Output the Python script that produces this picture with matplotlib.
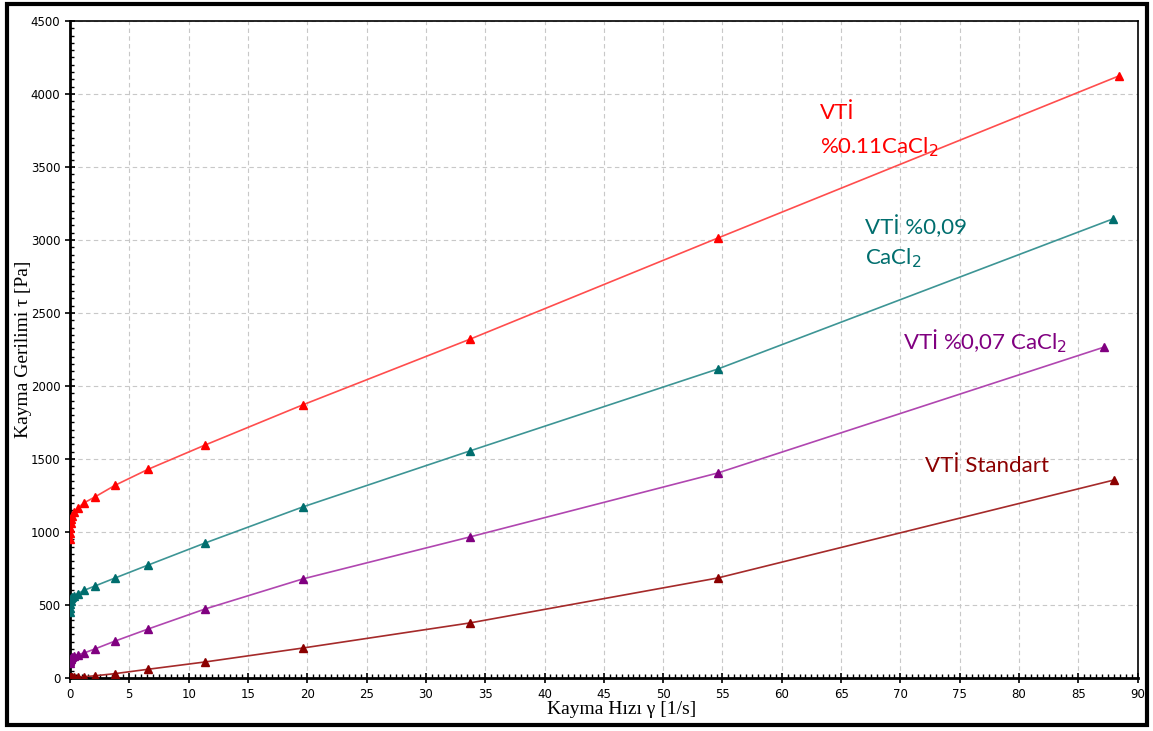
import matplotlib.pyplot as plt
from matplotlib.patches import Rectangle
from matplotlib.ticker import MultipleLocator

# shear rate [1/s] and shear stress [Pa]
rate = [0.01, 0.02, 0.04, 0.07, 0.12, 0.21, 0.37, 0.66, 1.17, 2.1, 3.8, 6.6, 11.4, 19.6, 33.7, 54.6]
rate_last = {"red": 88.4, "teal": 87.9, "purple": 87.2, "std": 88.0}

tau_red = [950, 990, 1030, 1060, 1090, 1110, 1135, 1165, 1199, 1240, 1320, 1430, 1596, 1870, 2320, 3013, 4123]
tau_teal = [450, 480, 510, 530, 545, 555, 565, 578, 600, 630, 685, 774, 925, 1171, 1555, 2116, 3144]
tau_purple = [100, 115, 125, 133, 140, 146, 152, 160, 171, 199, 253, 336, 473, 678, 966, 1404, 2267]
tau_std = [2, 3, 4, 4, 5, 5, 6, 7, 9, 15, 30, 60, 110, 205, 377, 685, 1356]

series = [
    ("red", tau_red, "#ff0000", "#ff4d4d"),
    ("teal", tau_teal, "#006e6e", "#3d9595"),
    ("purple", tau_purple, "#800080", "#b046b0"),
    ("std", tau_std, "#8b0000", "#a52a2a"),
]

labels = [
    ("VTİ", 63.2, 3870, "#ff0000"),
    ("%0.11CaCl$_2$", 63.2, 3637, "#ff0000"),
    ("VTİ %0,09", 67.0, 3089, "#006e6e"),
    ("CaCl$_2$", 67.0, 2877, "#006e6e"),
    ("VTİ %0,07 CaCl$_2$", 70.2, 2308, "#800080"),
    ("VTİ Standart", 72.1, 1452, "#8b0000"),
]

fig = plt.figure(figsize=(11.53, 7.31), dpi=100)
ax = fig.add_axes([0.0607, 0.0725, 0.926, 0.8988])

for key, tau, mcol, lcol in series:
    xs = rate + [rate_last[key]]
    ax.plot(xs, tau, color=lcol, lw=1.2, zorder=2)
    ax.plot(xs, tau, ls="none", marker="^", ms=6, color=mcol, zorder=3)

for txt, x, y, c in labels:
    ax.text(x, y, txt, color=c, fontsize=16, family="Lato", ha="left", va="center")

ax.set_xlim(0, 90)
ax.set_ylim(0, 4500)
ax.xaxis.set_major_locator(MultipleLocator(5))
ax.xaxis.set_minor_locator(MultipleLocator(0.5))
ax.yaxis.set_major_locator(MultipleLocator(500))
ax.yaxis.set_minor_locator(MultipleLocator(50))
ax.tick_params(which="major", direction="inout", length=7, width=1.2, labelsize=8.5)
ax.tick_params(which="minor", direction="in", length=3, width=1)
for lab in ax.get_xticklabels() + ax.get_yticklabels():
    lab.set_family(["Liberation Sans Narrow", "DejaVu Sans"])
ax.grid(True, which="major", ls=(0, (4, 3)), color="#c8c8c8", lw=0.8)
ax.set_axisbelow(True)
for s in ax.spines.values():
    s.set_linewidth(1.2)
ax.spines["left"].set_linewidth(2)
ax.spines["bottom"].set_linewidth(2)

ax.set_xlabel("Kayma Hızı γ [1/s]", family="Liberation Serif", fontsize=14)
ax.set_ylabel("Kayma Gerilimi τ [Pa]", family="Liberation Serif", fontsize=14)
ax.xaxis.set_label_coords(0.517, -0.035)
ax.yaxis.set_label_coords(-0.036, 0.5)

fig.patches.append(Rectangle((0.006, 0.008), 0.989, 0.987, transform=fig.transFigure,
                             fill=False, ec="black", lw=3))

fig.savefig("out.png", dpi=100)
